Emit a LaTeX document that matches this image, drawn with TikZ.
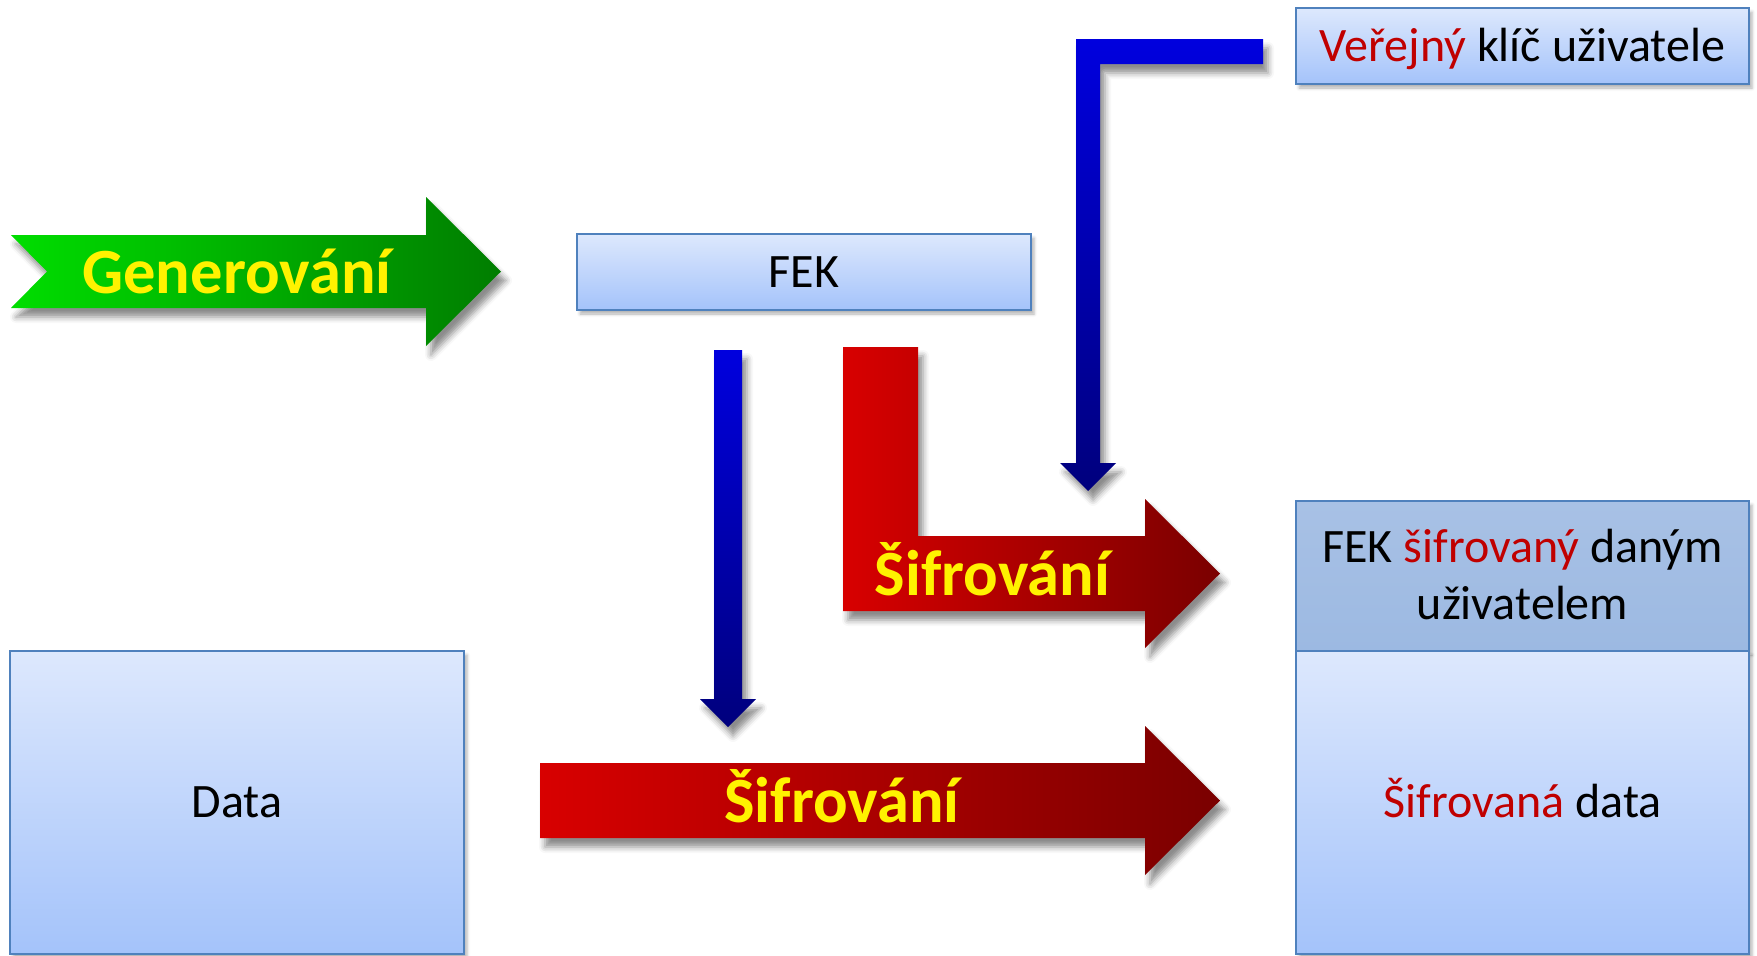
\documentclass[tikz,border=0pt]{standalone}
\usepackage{fontspec}
\setmainfont{Carlito}
\usetikzlibrary{shadows.blur}

\definecolor{boxline}{RGB}{79,129,189}
\definecolor{boxtop}{RGB}{221,232,253}
\definecolor{boxbottom}{RGB}{164,195,250}
\definecolor{headtop}{RGB}{168,193,229}
\definecolor{headbottom}{RGB}{156,185,226}
\definecolor{txtred}{RGB}{192,0,0}
\definecolor{genlight}{RGB}{0,222,0}
\definecolor{gendark}{RGB}{0,125,0}
\definecolor{enclight}{RGB}{216,0,0}
\definecolor{encdark}{RGB}{122,0,0}
\definecolor{keylight}{RGB}{0,0,222}
\definecolor{keydark}{RGB}{0,0,125}

\tikzset{
    box/.style={rectangle, draw=boxline, line width=1.5pt, top color=boxtop, bottom color=boxbottom,
        align=center, inner sep=0pt, text height=42.7pt, text depth=12pt, font=\fontsize{48}{57}\selectfont,
        blur shadow={shadow xshift=3pt, shadow yshift=-4pt, shadow blur radius=3pt, shadow opacity=30}},
    headbox/.style={box, top color=headtop, bottom color=headbottom, text height=99.7pt},
    bigshadow/.style={blur shadow={shadow xshift=5pt, shadow yshift=-9pt, shadow blur radius=6pt, shadow opacity=45}},
    genarrow/.style={bigshadow, left color=genlight, right color=gendark},
    encarrow/.style={bigshadow, left color=enclight, right color=encdark},
    keyarrow/.style={bigshadow, top color=keylight, bottom color=keydark},
    arrowlabel/.style={text=yellow, anchor=base, inner sep=0pt, font=\fontsize{64.5}{77}\selectfont\bfseries}
}

\begin{document}
\begin{tikzpicture}[x=1pt, y=-1pt]
    \useasboundingbox (0,0) rectangle (1757,956);

    % boxes
    \node[box, minimum width=454pt, minimum height=76pt] (fek) at (804,272) {FEK};
    \node[box, minimum width=453pt, minimum height=76pt] (key) at (1522.5,46) {\textcolor{txtred}{Veřejný} klíč uživatele};
    \node[box, minimum width=454pt, minimum height=303pt] (data) at (237,802.5) {Data};
    \node[headbox, minimum width=453pt, minimum height=150pt] (encfek) at (1522.5,576) {FEK \textcolor{txtred}{šifrovaný} daným\\uživatelem};
    \node[box, minimum width=453pt, minimum height=303pt] (encdata) at (1522.5,802.5) {\textcolor{txtred}{Šifrovaná} data};

    % block arrows
    \path[genarrow] (11,235) -- (426,235) -- (426,197) -- (501,271.5) -- (426,346) -- (426,308) -- (11,308) -- (47,271.5) -- cycle;
    \path[keyarrow] (714,350) -- (742,350) -- (742,699) -- (756,699) -- (728,727) -- (700,699) -- (714,699) -- cycle;
    \path[keyarrow] (1263,39) -- (1263,64) -- (1100,64) -- (1100,463) -- (1116,463) -- (1088,491) -- (1060,463) -- (1076,463) -- (1076,39) -- cycle;
    \path[encarrow] (843,347) -- (918,347) -- (918,536) -- (1145,536) -- (1145,499) -- (1220,573.5) -- (1145,648) -- (1145,611) -- (843,611) -- cycle;
    \path[encarrow] (540,763) -- (1145,763) -- (1145,726) -- (1220,800.5) -- (1145,875) -- (1145,838) -- (540,838) -- cycle;

    % labels on the arrows
    \node[arrowlabel] (genlabel) at (237,293) {Generování};
    \node[arrowlabel] (enclabel) at (992.5,595) {Šifrování};
    \node[arrowlabel] (datalabel) at (842,822) {Šifrování};
\end{tikzpicture}
\end{document}
